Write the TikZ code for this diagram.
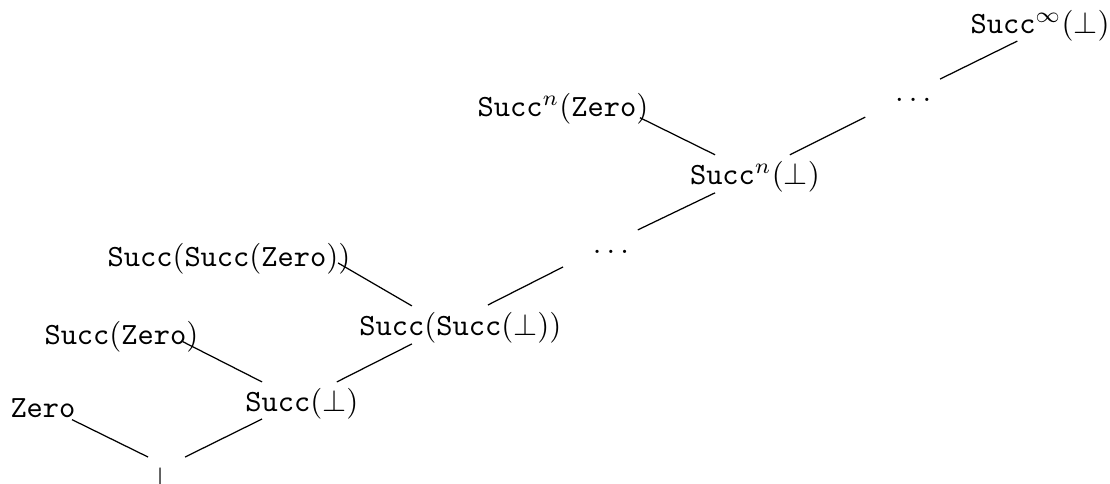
\documentclass[tikz,border=0pt]{standalone}
\usepackage{tikz}

\begin{document}
\begin{tikzpicture}
    \tikzstyle{term} = [inner sep=0pt, anchor=base]
    \tikzstyle{branch} = [thin]

    \useasboundingbox (0,0) rectangle (359.2pt,156.6pt);

            % node[Optionen](Name){Inhalt}
            \node (bot) [term] at (51.8pt,-1.5pt) {$\bot$};
            \node (zero) [term] at (13.9pt,21.4pt) {$\mathtt{Zero}$};

            \node (s1) [term] at (97.7pt,23.3pt) {$\mathtt{Succ}(\bot)$};
            \node (sz) [term] at (39.3pt,45.0pt) {$\mathtt{Succ}(\mathtt{Zero})$};

            \node (s2) [term] at (149.0pt,47.9pt) {$\mathtt{Succ}(\mathtt{Succ}(\bot))$};
            \node (ssz) [term] at (74.1pt,70.2pt) {$\mathtt{Succ}(\mathtt{Succ}(\mathtt{Zero}))$};

            \node (d1) [term] at (197.7pt,74.4pt) {$\dots$};

            \node (sn) [term] at (244.3pt,96.8pt) {$\mathtt{Succ}^n(\bot)$};
            \node (snz) [term] at (182.2pt,118.8pt) {$\mathtt{Succ}^n(\mathtt{Zero})$};

            \node (d2) [term] at (295.5pt,123.6pt) {$\dots$};
            \node (sinf) [term] at (336.6pt,145.6pt) {$\mathtt{Succ}^\infty(\bot)$};

            % ----- ----- ----- ----- ----- ----- ----- ----- ----- -----

            \draw [branch] ([shift={(9.4pt,-0.6pt)}]zero.base) -- ([shift={(-3.9pt,10.2pt)}]bot.base);
            \draw [branch] ([shift={(8.1pt,10.2pt)}]bot.base) -- ([shift={(-12.9pt,-2.3pt)}]s1.base);
            \draw [branch] ([shift={(19.9pt,1.0pt)}]sz.base) -- ([shift={(-12.9pt,9.7pt)}]s1.base);
            \draw [branch] ([shift={(11.3pt,9.7pt)}]s1.base) -- ([shift={(-15.7pt,-2.6pt)}]s2.base);
            \draw [branch] ([shift={(35.3pt,1.3pt)}]ssz.base) -- ([shift={(-15.7pt,9.7pt)}]s2.base);
            \draw [branch] ([shift={(8.9pt,10.0pt)}]s2.base) -- ([shift={(-15.5pt,-4.2pt)}]d1.base);
            \draw [branch] ([shift={(8.7pt,7.8pt)}]d1.base) -- ([shift={(-12.9pt,-2.6pt)}]sn.base);
            \draw [branch] ([shift={(24.9pt,-0.3pt)}]snz.base) -- ([shift={(-12.9pt,9.7pt)}]sn.base);
            \draw [branch] ([shift={(11.3pt,9.7pt)}]sn.base) -- ([shift={(-15.5pt,-4.9pt)}]d2.base);
            \draw [branch] ([shift={(8.7pt,7.4pt)}]d2.base) -- ([shift={(-7.4pt,-2.3pt)}]sinf.base);
\end{tikzpicture}
\end{document}
